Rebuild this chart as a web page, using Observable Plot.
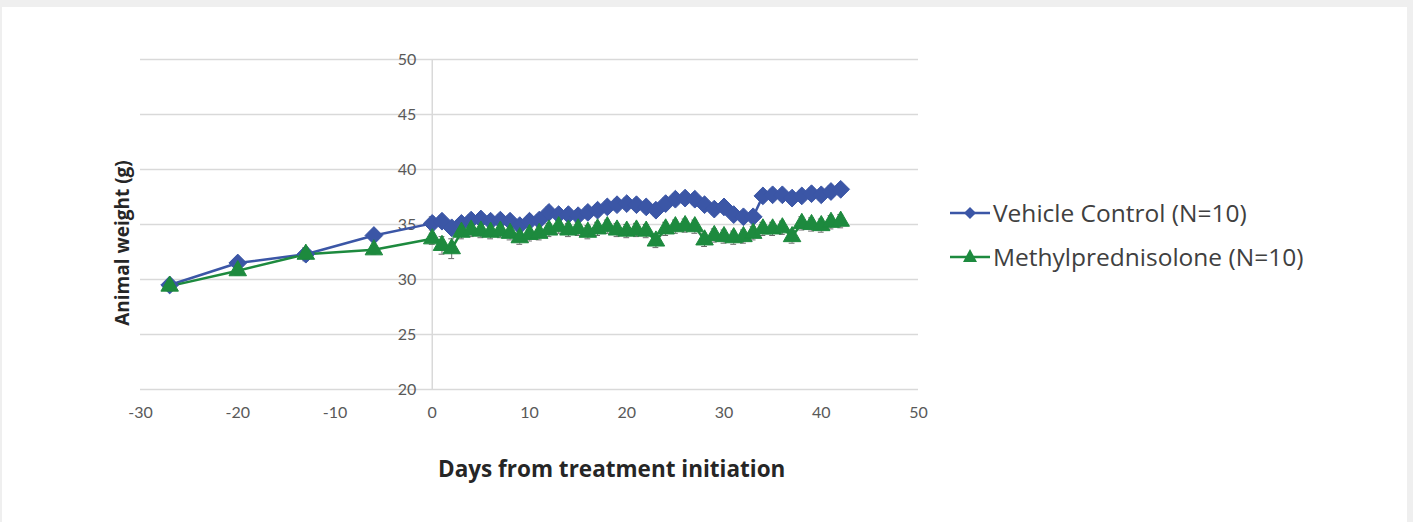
<!DOCTYPE html>
<html>
<head>
<meta charset="utf-8">
<script src="https://cdn.jsdelivr.net/npm/d3@7"></script>
<script src="https://cdn.jsdelivr.net/npm/@observablehq/plot@0.6"></script>
<style>
  html, body { margin: 0; padding: 0; background: #efefef; width: 1413px; height: 522px; overflow: hidden; }
  #panel { position: absolute; left: 2px; top: 7px; width: 1405px; height: 515px; background: #ffffff; }
  #chart { position: absolute; left: 0; top: 0; }
  .lbl { position: absolute; font-family: "Open Sans", Lato, sans-serif; color: #262626; font-weight: bold; white-space: nowrap; }
  #xtitle { left: 438px; top: 453px; font-size: 22.5px; }
  #ytitle { left: 122px; top: 243px; font-size: 19px; transform: translate(-50%, -50%) rotate(-90deg); }
  #legend { position: absolute; left: 950px; top: 195px; font-family: "Open Sans", Lato, sans-serif; font-size: 24.5px; color: #404040; }
  .row { display: flex; align-items: center; height: 34px; margin-bottom: 10px; }
  .row svg { margin-right: 3px; }
</style>
</head>
<body>
<div id="panel"></div>
<div id="chart"></div>
<div class="lbl" id="xtitle">Days from treatment initiation</div>
<div class="lbl" id="ytitle">Animal weight (g)</div>
<div id="legend"></div>
<script>
const days = [-27, -20, -13, -6, 0, 1, 2, 3, 4, 5, 6, 7, 8, 9, 10, 11, 12, 13, 14, 15, 16, 17, 18, 19, 20, 21, 22, 23, 24, 25, 26, 27, 28, 29, 30, 31, 32, 33, 34, 35, 36, 37, 38, 39, 40, 41, 42];
const vehicle = [29.5, 31.5, 32.3, 34.0, 35.1, 35.3, 34.7, 35.1, 35.4, 35.5, 35.3, 35.4, 35.3, 34.9, 35.3, 35.4, 36.1, 35.9, 35.9, 35.8, 36.1, 36.3, 36.6, 36.8, 36.9, 36.8, 36.6, 36.3, 36.9, 37.3, 37.4, 37.3, 36.8, 36.4, 36.6, 35.9, 35.7, 35.7, 37.6, 37.7, 37.7, 37.4, 37.6, 37.8, 37.7, 38.0, 38.2];
const vehicleErr = [0.5, 0.4, 0.5, 0.4, 0.6, 0.5, 0.5, 0.5, 0.5, 0.5, 0.5, 0.5, 0.5, 0.5, 0.5, 0.5, 0.5, 0.5, 0.5, 0.5, 0.5, 0.5, 0.5, 0.5, 0.5, 0.5, 0.5, 0.5, 0.5, 0.5, 0.5, 0.5, 0.5, 0.5, 0.5, 0.5, 0.5, 0.5, 0.5, 0.5, 0.5, 0.5, 0.5, 0.5, 0.5, 0.5, 0.5];
const methyl = [29.4, 30.8, 32.3, 32.7, 33.7, 33.1, 32.8, 34.3, 34.5, 34.4, 34.3, 34.4, 34.2, 33.8, 34.1, 34.2, 34.5, 34.8, 34.5, 34.6, 34.3, 34.6, 34.8, 34.5, 34.4, 34.5, 34.4, 33.5, 34.6, 34.8, 34.9, 34.8, 33.6, 34.0, 33.9, 33.8, 33.9, 34.2, 34.6, 34.6, 34.7, 33.9, 35.1, 35.0, 34.9, 35.2, 35.3];
const methylErr = [0.4, 0.4, 0.6, 0.4, 0.5, 0.8, 0.9, 0.6, 0.6, 0.6, 0.6, 0.6, 0.6, 0.6, 0.6, 0.6, 0.6, 0.6, 0.6, 0.6, 0.6, 0.6, 0.6, 0.6, 0.6, 0.6, 0.6, 0.6, 0.6, 0.6, 0.6, 0.6, 0.6, 0.6, 0.6, 0.6, 0.6, 0.6, 0.6, 0.6, 0.6, 0.6, 0.6, 0.6, 0.6, 0.6, 0.6];
const seriesNames = ["Vehicle Control (N=10)", "Methylprednisolone (N=10)"];
const xTicks = [-30, -20, -10, 0, 10, 20, 30, 40, 50];
const yTicks = [20, 25, 30, 35, 40, 45, 50];

const BLUE = "#3b56a6";
const GREEN = "#1d8a3e";

const rows = [];
days.forEach((d, i) => {
  rows.push({series: seriesNames[0], day: d, w: vehicle[i], e: vehicleErr[i]});
  rows.push({series: seriesNames[1], day: d, w: methyl[i], e: methylErr[i]});
});
const vRows = rows.filter(r => r.series === seriesNames[0]);
const mRows = rows.filter(r => r.series === seriesNames[1]);

const errMarks = (data) => [
  Plot.ruleX(data, {x: "day", y1: d => d.w - d.e, y2: d => d.w + d.e, stroke: "#6a6a6a", strokeWidth: 1}),
  Plot.ruleY(data, {y: d => d.w + d.e, x1: d => d.day - 0.3, x2: d => d.day + 0.3, stroke: "#6a6a6a", strokeWidth: 1}),
  Plot.ruleY(data, {y: d => d.w - d.e, x1: d => d.day - 0.3, x2: d => d.day + 0.3, stroke: "#6a6a6a", strokeWidth: 1})
];

const chart = Plot.plot({
  width: 1413,
  height: 522,
  marginLeft: 140,
  marginRight: 495,
  marginTop: 59,
  marginBottom: 133,
  style: {background: "transparent", fontFamily: "Lato, 'Open Sans', sans-serif"},
  x: {domain: [-30, 50], axis: null},
  y: {domain: [20, 50], axis: null},
  marks: [
    Plot.ruleY(yTicks, {y: d => d, stroke: "#d9d9d9", strokeWidth: 1.5}),
    Plot.ruleX([0], {x: d => d, y1: 20, y2: 50, stroke: "#d9d9d9", strokeWidth: 1.5}),
    Plot.text(yTicks, {x: () => 0, y: d => d, text: d => String(d), textAnchor: "end", dx: -16, fill: "#595959", fontSize: 16}),
    Plot.text(xTicks, {x: d => d, y: () => 20, text: d => String(d), dy: 23, fill: "#595959", fontSize: 16}),
    ...errMarks(vRows),
    ...errMarks(mRows),
    Plot.line(vRows, {x: "day", y: "w", stroke: BLUE, strokeWidth: 2.5}),
    Plot.line(mRows, {x: "day", y: "w", stroke: GREEN, strokeWidth: 2.5}),
    Plot.dot(vRows, {x: "day", y: "w", symbol: "diamond2", r: 8, fill: BLUE, stroke: BLUE, strokeWidth: 1}),
    Plot.dot(mRows, {x: "day", y: "w", symbol: "triangle", r: 6.5, fill: GREEN, stroke: GREEN, strokeWidth: 1})
  ]
});
document.getElementById("chart").appendChild(chart);

// legend
const legend = document.getElementById("legend");
const sym = [
  {color: BLUE, path: "M20,10 L26,16 L20,22 L14,16 Z"},
  {color: GREEN, path: "M20,8 L27,21 L13,21 Z"}
];
seriesNames.forEach((name, i) => {
  const row = document.createElement("div");
  row.className = "row";
  row.innerHTML = `<svg width="40" height="30"><line x1="0" y1="16" x2="40" y2="16" stroke="${sym[i].color}" stroke-width="2.5"/><path d="${sym[i].path}" fill="${sym[i].color}"/></svg><span>${name}</span>`;
  legend.appendChild(row);
});
</script>
</body>
</html>
